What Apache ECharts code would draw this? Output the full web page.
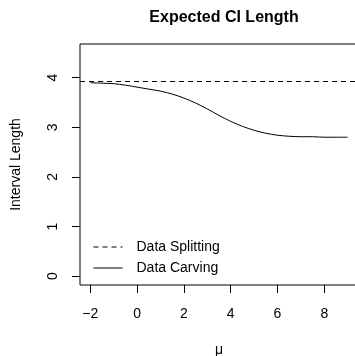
<!DOCTYPE html>
<html>
<head>
<meta charset="utf-8">
<script src="https://cdn.jsdelivr.net/npm/echarts@6/dist/echarts.min.js"></script>
<style>
  html, body { margin: 0; padding: 0; background: #fff; }
  #chart { width: 355px; height: 356px; }
</style>
</head>
<body>
<div id="chart"></div>
<script>
// values
const mu = [-2, -1.5, -1, -0.5, 0, 0.5, 1, 1.5, 2, 2.5, 3, 3.5, 4, 4.5, 5, 5.5, 6, 6.5, 7, 7.5, 8, 8.5, 9];
const carving = [3.90, 3.89, 3.88, 3.85, 3.81, 3.77, 3.73, 3.67, 3.59, 3.49, 3.37, 3.24, 3.12, 3.02, 2.94, 2.88, 2.84, 2.82, 2.81, 2.81, 2.80, 2.80, 2.80];
const splitting = 3.93;
const xTicks = [-2, 0, 2, 4, 6, 8];
const yTicks = [0, 1, 2, 3, 4];

const font = "Liberation Sans, Arial, sans-serif";
const chart = echarts.init(document.getElementById("chart"));

chart.setOption({
  animation: false,
  title: {
    text: "Expected CI Length",
    left: 219,
    top: 5,
    textAlign: "center",
    textStyle: { fontFamily: font, fontSize: 16, fontWeight: "bold", color: "#000" },
  },
  grid: {
    left: 80,
    top: 44,
    width: 278,
    bottom: 71,
    outerBoundsMode: "none",
    show: true,
    borderColor: "#000",
    borderWidth: 1,
    backgroundColor: "transparent",
  },
  legend: {
    left: 93,
    top: 240,
    padding: 0,
    orient: "vertical",
    itemWidth: 29,
    itemHeight: 10,
    itemGap: 7,
    data: ["Data Splitting", "Data Carving"],
    itemStyle: { color: "rgba(0,0,0,0)", borderColor: "rgba(0,0,0,0)", borderWidth: 0 },
    lineStyle: { width: 1 },
    textStyle: { fontFamily: font, fontSize: 14, color: "#000", padding: [0, 0, 0, 9] },
  },
  xAxis: {
    type: "value",
    min: -2.44,
    max: 9.44,
    name: "μ",
    nameLocation: "middle",
    nameGap: 58,
    nameTextStyle: { fontFamily: font, fontSize: 14, color: "#000" },
    axisLine: { show: false, onZero: false },
    splitLine: { show: false },
    axisTick: { show: true, length: 8, customValues: xTicks, lineStyle: { color: "#000" } },
    axisLabel: { customValues: xTicks, margin: 22, fontFamily: font, fontSize: 14, color: "#000",
      formatter: v => String(v).replace("-", "\u2212") },
  },
  yAxis: {
    type: "value",
    min: -0.18,
    max: 4.68,
    name: "Interval Length",
    nameLocation: "middle",
    nameGap: 57,
    nameTextStyle: { fontFamily: font, fontSize: 14, color: "#000" },
    axisLine: { show: false, onZero: false },
    splitLine: { show: false },
    axisTick: { show: true, length: 8, customValues: yTicks, lineStyle: { color: "#000" } },
    axisLabel: { customValues: yTicks, rotate: 90, margin: 20, fontFamily: font, fontSize: 14, color: "#000" },
  },
  series: [
    {
      name: "Data Splitting",
      type: "line",
      data: [],
      symbol: "none",
      lineStyle: { color: "#000", width: 1, type: [5, 4] },
      itemStyle: { color: "#000" },
      markLine: {
        silent: true,
        symbol: "none",
        label: { show: false },
        lineStyle: { color: "#000", width: 1, type: [5, 4] },
        data: [{ yAxis: splitting }],
      },
    },
    {
      name: "Data Carving",
      type: "line",
      data: mu.map((m, i) => [m, carving[i]]),
      symbol: "none",
      smooth: 0.3,
      lineStyle: { color: "#000", width: 1 },
      itemStyle: { color: "#000" },
    },
  ],
});
</script>
</body>
</html>
